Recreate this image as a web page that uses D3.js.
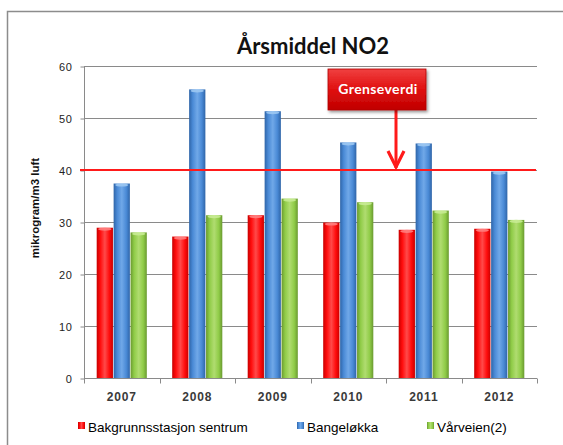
<!DOCTYPE html>
<html><head><meta charset="utf-8">
<script src="https://cdn.jsdelivr.net/npm/d3@7"></script>
<style>body{margin:0;background:#fff}svg{display:block}</style>
</head><body>
<script>
const years = ["2007","2008","2009","2010","2011","2012"];
const seriesNames = ["Bakgrunnsstasjon sentrum","Bangeløkka","Vårveien(2)"];
const bakgrunn = [28.9, 27.2, 31.3, 29.9, 28.5, 28.7];
const bangelokka = [37.4, 55.5, 51.3, 45.3, 45.1, 39.7];
const varveien = [28.0, 31.3, 34.5, 33.8, 32.2, 30.4];
const yTicks = [0,10,20,30,40,50,60];
const limitValue = 40;
const limitLabel = "Grenseverdi";
const titleText = "Årsmiddel NO2";
const yLabel = "mikrogram/m3 luft";

(function(){
const values = [bakgrunn, bangelokka, varveien];
const colors = [
  {mid:"#ff0c0c", light:"#ff4a4a", dark:"#c80000", top:"#ff8080"},
  {mid:"#4a8ad6", light:"#70a8e8", dark:"#2f65a8", top:"#9cc8f2"},
  {mid:"#90cc48", light:"#b0dc70", dark:"#6a9a30", top:"#c8eb94"}
];

const W=563,H=445;
const svg=d3.select("body").append("svg").attr("width",W).attr("height",H);
const defs=svg.append("defs");
colors.forEach((c,i)=>{
  const g=defs.append("linearGradient").attr("id","g"+i).attr("x1","0").attr("x2","1").attr("y1","0").attr("y2","0");
  g.append("stop").attr("offset","0").attr("stop-color",c.dark);
  g.append("stop").attr("offset","0.22").attr("stop-color",c.mid);
  g.append("stop").attr("offset","0.5").attr("stop-color",c.light);
  g.append("stop").attr("offset","0.78").attr("stop-color",c.mid);
  g.append("stop").attr("offset","1").attr("stop-color",c.dark);
});
const bg=defs.append("linearGradient").attr("id","boxg").attr("x1","0").attr("x2","0").attr("y1","0").attr("y2","1");
bg.append("stop").attr("offset","0").attr("stop-color","#f04040");
bg.append("stop").attr("offset","0.5").attr("stop-color","#e01010");
bg.append("stop").attr("offset","1").attr("stop-color","#c00000");
const sh=defs.append("filter").attr("id","sh").attr("x","-20%").attr("y","-20%").attr("width","150%").attr("height","150%");
sh.append("feDropShadow").attr("dx",1.5).attr("dy",2).attr("stdDeviation",1.5).attr("flood-color","#000").attr("flood-opacity",0.4);

// outer border
svg.append("path").attr("d","M7.5,"+H+" V11.5 H"+W).attr("fill","none").attr("stroke","#8c8c8c").attr("stroke-width",1.5);

const pL=84,pR=537,pT=66,pB=378;
const y=d3.scaleLinear().domain([0,60]).range([pB,pT]);
const x0=d3.scaleBand().domain(years).range([pL,pR]).padding(0);
const x1=d3.scaleBand().domain(d3.range(3)).range([0,x0.bandwidth()]).paddingInner(0.04).paddingOuter(0.75);

// gridlines
svg.append("g").selectAll("line").data(yTicks.filter(d=>d>0)).join("line")
  .attr("x1",pL).attr("x2",pR).attr("y1",d=>y(d)+0.5).attr("y2",d=>y(d)+0.5)
  .attr("stroke","#8a8a8a").attr("stroke-width",1);

// y axis
const ya=svg.append("g").attr("transform",`translate(${pL+0.5},0.5)`)
  .call(d3.axisLeft(y).tickValues(yTicks).tickSize(4).tickPadding(8));
ya.select(".domain").attr("stroke","#8a8a8a").attr("d",`M0,${pT}V${pB+4}`);
ya.selectAll(".tick line").attr("stroke","#8a8a8a");
ya.selectAll(".tick text").attr("font-family","Liberation Sans, Arial, sans-serif").attr("font-size",11).attr("fill","#222").attr("letter-spacing",0.6).attr("dy","0.35em");

// x axis
const xa=svg.append("g").attr("transform",`translate(0,${pB+0.5})`);
xa.append("line").attr("x1",pL).attr("x2",pR).attr("stroke","#8a8a8a");
xa.selectAll("line.t").data(years.map(d=>x0(d)).concat([pR])).join("line").attr("class","t")
  .attr("x1",d=>Math.round(d)+0.5).attr("x2",d=>Math.round(d)+0.5).attr("y1",0).attr("y2",5).attr("stroke","#8a8a8a");
xa.selectAll("text").data(years).join("text")
  .attr("x",d=>x0(d)+x0.bandwidth()/2).attr("y",22.5).attr("text-anchor","middle")
  .attr("font-family","Liberation Sans, Arial, sans-serif").attr("font-size",12).attr("font-weight","bold")
  .attr("letter-spacing",0.8).attr("fill","#3a3a3a").text(d=>d);

// bars
const groups=svg.append("g").selectAll("g").data(years).join("g").attr("transform",d=>`translate(${x0(d)},0)`);
groups.each(function(yr,yi){
  const g=d3.select(this);
  values.forEach((arr,si)=>{
    const v=arr[yi], bx=x1(si), bw=x1.bandwidth();
    g.append("rect").attr("x",bx).attr("y",y(v)).attr("width",bw).attr("height",y(0)-y(v)).attr("fill",`url(#g${si})`);
    g.append("ellipse").attr("cx",bx+bw/2).attr("cy",y(v)+1.5).attr("rx",bw/2-1.5).attr("ry",1.6).attr("fill",colors[si].top).attr("opacity",0.9);
  });
});

// limit line
svg.append("line").attr("x1",pL-4).attr("x2",pR-1).attr("y1",y(limitValue)).attr("y2",y(limitValue))
  .attr("stroke","#ff1a1a").attr("stroke-width",2.2);

// annotation
const ax=396, boxTop=69, boxBottom=110;
svg.append("line").attr("x1",ax).attr("x2",ax).attr("y1",boxBottom).attr("y2",y(limitValue)-2).attr("stroke","#ff1a1a").attr("stroke-width",3);
svg.append("path").attr("d",`M${ax-8},${y(limitValue)-19} L${ax},${y(limitValue)-3} L${ax+8},${y(limitValue)-19}`)
  .attr("fill","none").attr("stroke","#ff1a1a").attr("stroke-width",3.2).attr("stroke-linejoin","miter");
svg.append("rect").attr("x",328).attr("y",boxTop).attr("width",98).attr("height",boxBottom-boxTop)
  .attr("fill","url(#boxg)").attr("stroke","#b00000").attr("stroke-width",0.8).attr("filter","url(#sh)");
svg.append("text").attr("x",378).attr("y",94).attr("text-anchor","middle")
  .attr("font-family","Lato, Open Sans, sans-serif").attr("font-weight","bold").attr("font-size",14)
  .attr("letter-spacing",0.4).attr("fill","#fff").text(limitLabel);

// title
svg.append("text").attr("x",313).attr("y",54).attr("text-anchor","middle")
  .attr("font-family","Lato, Open Sans, sans-serif").attr("font-weight","bold").attr("font-size",22)
  .attr("fill","#111").text(titleText);

// y label
svg.append("text").attr("transform","translate(39,208) rotate(-90)").attr("text-anchor","middle")
  .attr("font-family","Liberation Sans, Arial, sans-serif").attr("font-weight","bold").attr("font-size",11.5)
  .attr("fill","#111").text(yLabel);

// legend
const legX=[78,297,427];
const leg=svg.append("g").selectAll("g").data(seriesNames).join("g").attr("transform",(d,i)=>`translate(${legX[i]},422)`);
leg.append("rect").attr("width",7).attr("height",7).attr("fill",(d,i)=>`url(#g${i})`);
leg.append("text").attr("x",10).attr("y",10).attr("font-family","Liberation Sans, Arial, sans-serif").attr("font-size",13.5)
  .attr("fill","#000").text(d=>d);
})();
</script>
</body></html>
